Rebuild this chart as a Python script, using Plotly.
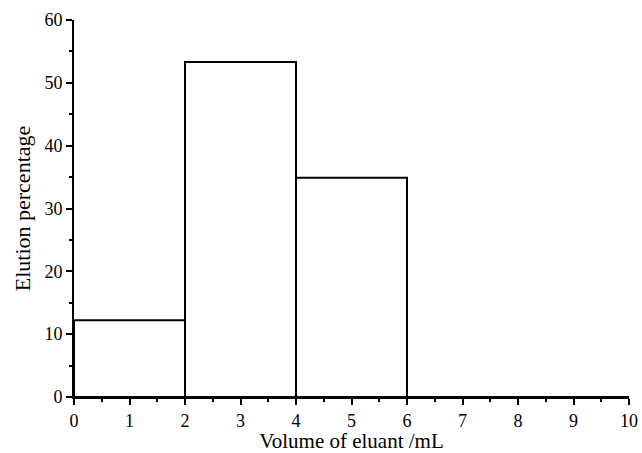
import plotly.graph_objects as go

x_centers = [1, 3, 5, 7, 9]
bar_widths = [2, 2, 2, 2, 2]
elution_pct = [12.2, 53.3, 34.9, 0, 0]

fig = go.Figure(go.Bar(
    x=x_centers, y=elution_pct, width=bar_widths,
    marker=dict(color="white", line=dict(color="black", width=2)),
))

font = "Liberation Serif, Times New Roman, serif"
fig.update_layout(
    width=642, height=453,
    margin=dict(l=74, r=13, t=20, b=56),
    plot_bgcolor="white", paper_bgcolor="white",
    showlegend=False,
    font=dict(family=font, size=18, color="black"),
)
fig.update_xaxes(
    range=[0, 10], tickmode="linear", tick0=0, dtick=1, automargin=False,
    showline=True, linecolor="black", linewidth=2,
    ticks="outside", ticklen=6, tickwidth=2, tickcolor="black",
    tickfont=dict(size=18),
    minor=dict(dtick=0.5, ticks="outside", ticklen=3, tickwidth=2, tickcolor="black"),
    showgrid=False, zeroline=False,
    title=dict(text="Volume of eluant /mL", font=dict(size=21), standoff=7),
)
fig.update_yaxes(
    range=[0, 60], tickmode="linear", tick0=0, dtick=10, automargin=False,
    showline=True, linecolor="black", linewidth=2,
    ticks="outside", ticklen=6, tickwidth=2, tickcolor="black",
    tickfont=dict(size=18),
    minor=dict(dtick=5, ticks="outside", ticklen=3, tickwidth=2, tickcolor="black"),
    showgrid=False, zeroline=False,
    title=dict(text="Elution percentage", font=dict(size=22), standoff=8),
)
fig.write_html(
    "out.html",
    config={"displayModeBar": False},
    post_script="document.body.style.margin='0';document.body.style.overflow='hidden';",
)
